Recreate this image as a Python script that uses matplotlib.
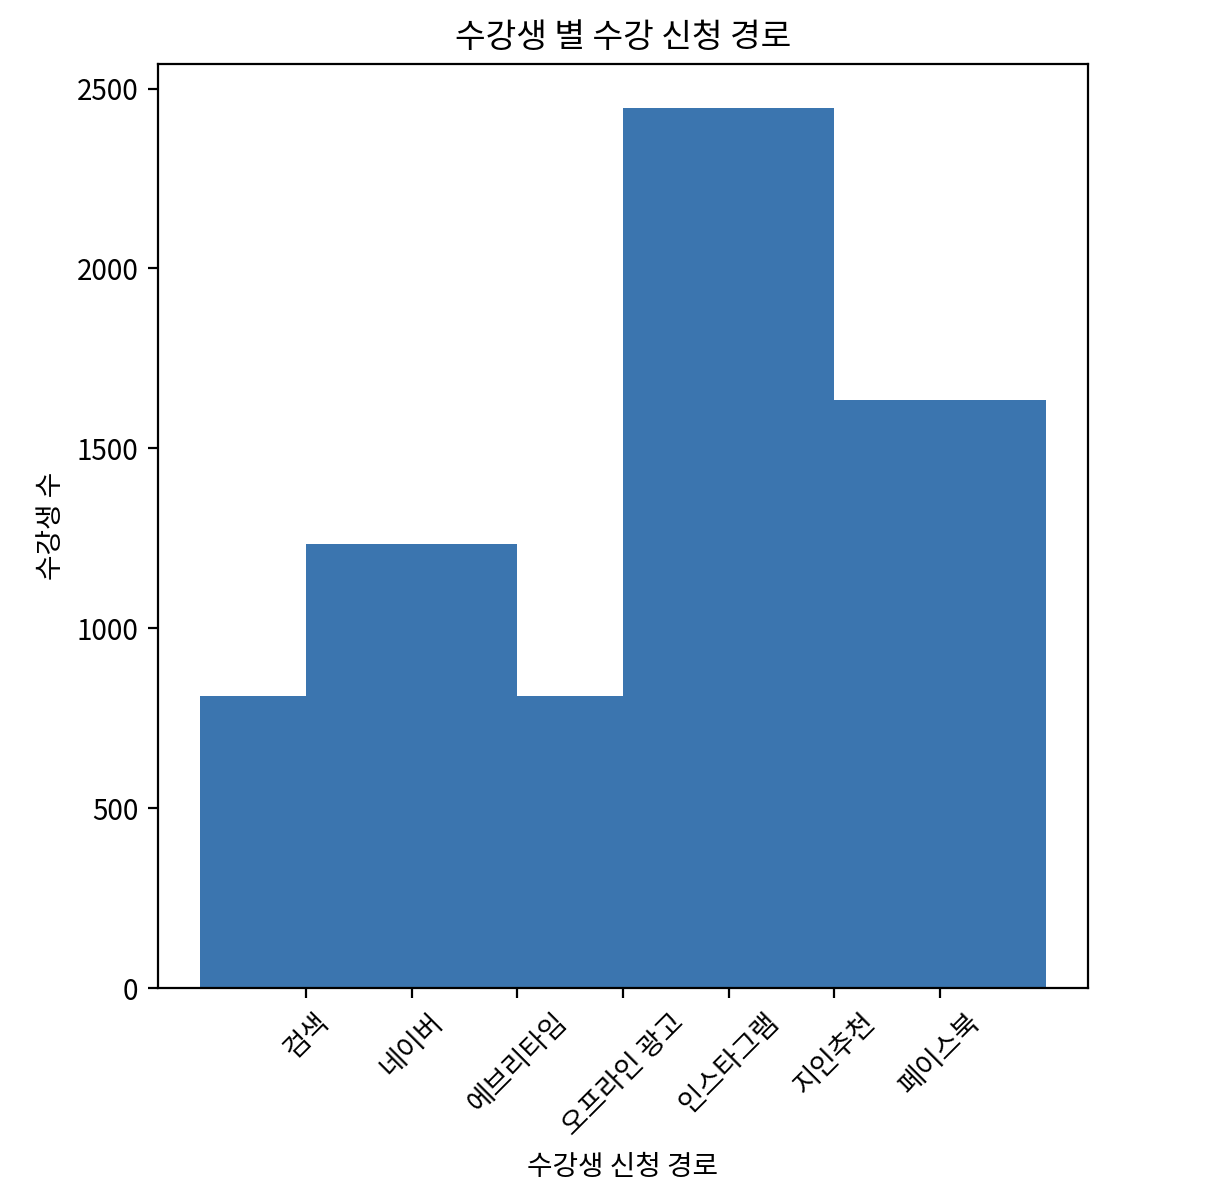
import numpy as np
import matplotlib
matplotlib.use("Agg")
import matplotlib.pyplot as plt

plt.rcParams['font.family'] = ['Noto Sans CJK KR', 'DejaVu Sans']
plt.rcParams['axes.unicode_minus'] = False

# 수강 신청 경로 (정렬된 범주)
categories = ['검색', '네이버', '에브리타임', '오프라인 광고', '인스타그램', '지인추천', '페이스북']
# 히스토그램 구간 (범주 인덱스 기준) 과 높이
bin_edges = [-1, 0, 2, 3, 5, 7]
counts = [812, 1235, 812, 2446, 1635]

fig = plt.figure(figsize=(6.15, 5.96), dpi=200)
ax = fig.add_axes([0.1285, 0.1711, 0.756, 0.7752])

ax.hist(bin_edges[:-1], bins=bin_edges, weights=counts, color='#3b75af')

ax.set_xticks(np.arange(len(categories)))
ax.set_xticklabels(categories, rotation=45)
ax.set_title('수강생 별 수강 신청 경로')
ax.set_xlabel('수강생 신청 경로')
ax.set_ylabel('수강생 수')

fig.savefig('out.png')
